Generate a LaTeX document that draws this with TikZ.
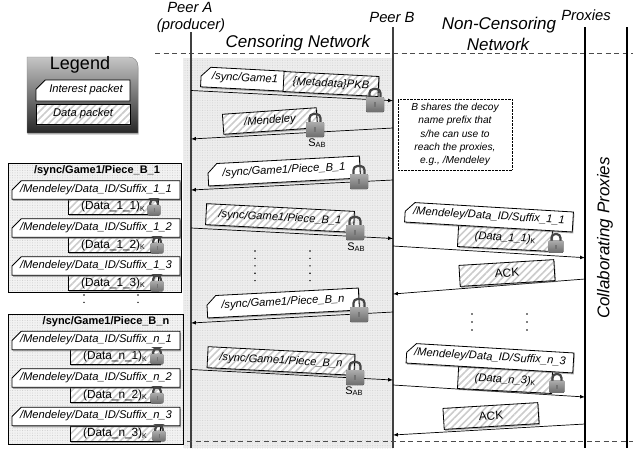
\documentclass[tikz,border=0pt]{standalone}
\usepackage{fontspec}
\setmainfont{Liberation Sans}
\usetikzlibrary{shapes.misc,shadows,patterns.meta}

\newcommand{\sizeof}[1]{\fontsize{#1}{#1}\selectfont}
\newcommand{\subK}{\raisebox{-1.5pt}{\sizeof{7}\textup{K}}}
\newcommand{\sAB}{S\raisebox{-1.5pt}{\sizeof{7.5}AB}}

\tikzset{
	intpkt/.style = {draw, line width=.8pt, fill=white, drop shadow={shadow xshift=1pt, shadow yshift=-1.5pt, fill=black!60}, chamfered rectangle, chamfered rectangle corners=north west, chamfered rectangle xsep=7pt, chamfered rectangle ysep=7pt, chamfered rectangle angle=45, inner sep=0pt, text height=4.5pt, text depth=-2.5pt, font=\itshape\sizeof{11.2}},
	datapkt/.style = {draw, line width=.8pt, inner sep=0pt, font=\itshape\sizeof{11.2}, drop shadow={shadow xshift=1pt, shadow yshift=-1.5pt, fill=black!60}, preaction={fill=white}, pattern={Lines[angle=45, distance=5pt, line width=1.6pt]}, pattern color=gray!40},
	cachedata/.style = {datapkt, line width=.5pt, minimum width=90pt, minimum height=15pt, font=\sizeof{11.8}},
	cacheint/.style = {intpkt, minimum width=168pt, minimum height=18pt},
	cachebox/.style = {draw, line width=.8pt, drop shadow={shadow xshift=1pt, shadow yshift=-1pt, fill=black!50}, preaction={fill=gray!10}, pattern={Dots[distance=2.5pt, radius=.5pt]}, pattern color=gray!40},
	msg/.style = {-latex, line width=.7pt},
	lifeline/.style = {line width=1.1pt, draw=black!75},
	border/.style = {dashed, draw=black!70, line width=.6pt, dash pattern=on 5pt off 3.5pt},
	vdots/.style = {line width=1.6pt, line cap=round, dash pattern=on 0pt off 7.4pt},
	title/.style = {inner sep=0pt, font=\itshape\sizeof{17}},
	peer/.style = {inner sep=0pt, font=\itshape\sizeof{14.8}},
	sablabel/.style = {inner sep=0pt, font=\sizeof{11}},
	lockicon/.pic = {
		\draw[line width=2.2pt, draw=gray!55!black, rounded corners=4pt] (-5.5,-1) -- (-5.5,-11) -- (5.5,-11) -- (5.5,-1);
		\fill[rounded corners=1pt, top color=gray!65, bottom color=gray!85!black] (-9,-3) rectangle (9,12);
		\fill[black!55] (-.7,2) rectangle (.7,7);
	}
}

\begin{document}
\begin{tikzpicture}[x=1pt, y=-1pt]
	\useasboundingbox (0,0) rectangle (633,448);

	% censoring network area
	\path[preaction={fill=gray!14}, pattern={Dots[distance=2.5pt, radius=.5pt]}, pattern color=gray!35] (183,58) rectangle (393,448);

	% lifelines and borders
	\coordinate (bl) at (155,53);
	\coordinate (br) at (633,53);
	\coordinate (cl) at (170,441);
	\coordinate (cr) at (633,441);
	\draw[border] (bl) -- (br);
	\coordinate (a0) at (191,32);
	\coordinate (a9) at (191,448);
	\coordinate (b0) at (393,27);
	\coordinate (b9) at (393,448);
	\coordinate (p0) at (585,27);
	\coordinate (p9) at (585,448);
	\coordinate (q0) at (627,27);
	\coordinate (q9) at (627,448);
	\draw[lifeline] (a0) -- (a9);
	\draw[lifeline] (b0) -- (b9);
	\draw[lifeline, draw=black] (p0) -- (p9);
	\draw[lifeline, draw=black] (q0) -- (q9);

	\node[peer] (peerA) at (190,7) {Peer A};
	\node[peer] (producer) at (191,26) {(producer)};
	\node[peer] (peerB) at (392,17) {Peer B};
	\node[peer] (proxies) at (586,15) {Proxies};
	\node[title] (censoring) at (298,43) {Censoring Network};
	\node[title] (noncens) at (499,25) {Non-Censoring};
	\node[title] (noncens2) at (498,44) {Network};
	\node[title, rotate=90] (collab) at (605,238) {Collaborating Proxies};

	% legend
	\path[draw=gray, top color=gray!45, middle color=gray!65, bottom color=black!85, drop shadow={shadow xshift=.5pt, shadow yshift=-1.5pt}] (27,133) -- (27,57) [rounded corners=9pt] -- (138,57) [sharp corners] -- (138,133) -- cycle;
	\node[inner sep=0pt, font=\sizeof{18}] (legend) at (80,65) {Legend};
	\node[intpkt, minimum width=94pt, minimum height=21pt] (legint) at (83,90.5) {\hspace{6pt}Interest packet};
	\node[datapkt, minimum width=94pt, minimum height=20pt] (legdata) at (83,114) {Data packet};

	% messages between the peers
	\coordinate (m1a) at (191,90.5);
	\coordinate (m1b) at (393,100.7);
	\draw[msg] (m1a) -- (m1b);
	\coordinate (m2b) at (393,128);
	\coordinate (m2a) at (191,139);
	\draw[msg] (m2b) -- (m2a);
	\coordinate (m3b) at (393,180);
	\coordinate (m3a) at (191,190);
	\draw[msg] (m3b) -- (m3a);
	\coordinate (m4a) at (191,228);
	\coordinate (m4b) at (393,238.5);
	\draw[msg] (m4a) -- (m4b);
	\coordinate (m5b) at (393,312);
	\coordinate (m5a) at (191,323);
	\draw[msg] (m5b) -- (m5a);
	\coordinate (m6a) at (191,369.5);
	\coordinate (m6b) at (393,380);
	\draw[msg] (m6a) -- (m6b);

	\node[intpkt, rotate=-3, minimum width=84pt, minimum height=20pt] (sync) at (243,79) {\hspace{4pt}/sync/Game1};
	\node[datapkt, rotate=-3, minimum width=95pt, minimum height=20pt] (meta) at (331,84) {\{Metadata\}PKB};
	\pic at (375,100) {lockicon};
	\node[datapkt, rotate=4, minimum width=94pt, minimum height=20pt] (mendeley) at (270,121) {/Mendeley};
	\pic at (315,125) {lockicon};
	\node[sablabel] (sab1) at (317,143) {\sAB};
	\node[intpkt, rotate=3, minimum width=152pt, minimum height=22pt] (piece1) at (284,171) {/sync/Game1/Piece\_B\_1};
	\pic at (359,177) {lockicon};
	\node[datapkt, rotate=-3, minimum width=148pt, minimum height=21pt] (data1) at (280,218) {/sync/Game1/Piece\_B\_1\hspace{6pt}};
	\pic at (355,228) {lockicon};
	\node[sablabel] (sab2) at (356,247) {\sAB};
	\node[intpkt, rotate=3, minimum width=152pt, minimum height=22pt] (piecen) at (283,303) {/sync/Game1/Piece\_B\_n};
	\pic at (359,310) {lockicon};
	\node[datapkt, rotate=-3, minimum width=147pt, minimum height=21pt] (datan) at (281,361) {/sync/Game1/Piece\_B\_n\hspace{6pt}};
	\pic at (355,373) {lockicon};
	\node[sablabel] (sab3) at (354,391) {\sAB};

	% dots
	\coordinate (d1) at (255,251);
	\coordinate (d2) at (255,281.5);
	\coordinate (d3) at (310,251);
	\coordinate (d4) at (310,281.5);
	\draw[vdots] (d1) -- (d2);
	\draw[vdots] (d3) -- (d4);

	% note
	\node[draw, densely dotted, minimum width=114pt, minimum height=71pt, align=center, inner sep=0pt, font=\itshape\fontsize{10.2}{13.4}\selectfont] (note) at (455,134.5) {B shares the decoy\\name prefix that\\s/he can use to\\reach the proxies,\\e.g., /Mendeley};

	% messages to the proxies
	\coordinate (r1b) at (393,246);
	\coordinate (r1p) at (585,257.7);
	\draw[msg] (r1b) -- (r1p);
	\coordinate (r2p) at (585,279);
	\coordinate (r2b) at (393,294);
	\draw[msg] (r2p) -- (r2b);
	\coordinate (r3b) at (393,385);
	\coordinate (r3p) at (585,397);
	\draw[msg] (r3b) -- (r3p);
	\coordinate (r4p) at (585,424);
	\coordinate (r4b) at (393,435);
	\draw[msg] (r4p) -- (r4b);

	\node[datapkt, rotate=-3, minimum width=94pt, minimum height=22pt] (rdata1) at (505,238) {(Data\_1\_1)\subK\hspace{12pt}};
	\node[intpkt, rotate=-3.4, minimum width=168pt, minimum height=20pt] (rint1) at (489,217) {/Mendeley/Data\_ID/Suffix\_1\_1};
	\pic[scale=.82] at (556,243) {lockicon};
	\node[datapkt, rotate=3.5, minimum width=95pt, minimum height=21pt, font=\sizeof{11.8}] (ack1) at (507,273) {ACK};
	\coordinate (d5) at (472,314);
	\coordinate (d6) at (472,330.5);
	\coordinate (d7) at (527,314);
	\coordinate (d8) at (527,330.5);
	\draw[vdots, dash pattern=on 0pt off 8pt] (d5) -- (d6);
	\draw[vdots, dash pattern=on 0pt off 8pt] (d7) -- (d8);
	\node[datapkt, rotate=-3, minimum width=94pt, minimum height=22pt] (rdatan) at (505,380) {(Data\_n\_3)\subK\hspace{12pt}};
	\node[intpkt, rotate=-3.4, minimum width=167pt, minimum height=20pt] (rintn) at (490,358) {/Mendeley/Data\_ID/Suffix\_n\_3};
	\pic[scale=.82] at (557,383) {lockicon};
	\node[datapkt, rotate=3.5, minimum width=95pt, minimum height=21pt, font=\sizeof{11.8}] (ackn) at (491,416) {ACK};
	\draw[border] (cl) -- (cr);

	% cached pieces, first
	\node[cachebox, minimum width=173pt, minimum height=129pt] (box1) at (94.5,227.5) {};
	\node[inner sep=0pt, font=\bfseries\sizeof{11}] (boxtitle1) at (97,171) {/sync/Game1/Piece\_B\_1};
	\node[cachedata] (d11) at (113,206.5) {(Data\_1\_1)\subK\hspace{12pt}};
	\node[cacheint] (i11) at (96,190) {/Mendeley/Data\_ID/Suffix\_1\_1};
	\pic[scale=.7] at (154,207) {lockicon};
	\node[cachedata] (d12) at (113,245) {(Data\_1\_2)\subK\hspace{12pt}};
	\node[cacheint] (i12) at (96,228) {/Mendeley/Data\_ID/Suffix\_1\_2};
	\pic[scale=.7] at (157,245) {lockicon};
	\node[cachedata] (d13) at (113,283) {(Data\_1\_3)\subK\hspace{12pt}};
	\node[cacheint] (i13) at (96,266) {/Mendeley/Data\_ID/Suffix\_1\_3};
	\pic[scale=.7] at (157,283) {lockicon};

	\coordinate (d9) at (84,295);
	\coordinate (d10) at (84,309.5);
	\coordinate (d14) at (138,295);
	\coordinate (d15) at (138,309.5);
	\draw[vdots] (d9) -- (d10);
	\draw[vdots] (d14) -- (d15);

	% cached pieces, last
	\node[cachebox, minimum width=175pt, minimum height=130pt] (box2) at (95.5,379) {};
	\node[inner sep=0pt, font=\bfseries\sizeof{11}] (boxtitle2) at (106,322) {/sync/Game1/Piece\_B\_n};
	\node[cachedata] (dn1) at (115,356.5) {(Data\_n\_1)\subK\hspace{12pt}};
	\node[cacheint] (in1) at (96,340.5) {/Mendeley/Data\_ID/Suffix\_n\_1};
	\pic[scale=.7] at (157,356) {lockicon};
	\node[cachedata] (dn2) at (115,395) {(Data\_n\_2)\subK\hspace{12pt}};
	\node[cacheint] (in2) at (96,378) {/Mendeley/Data\_ID/Suffix\_n\_2};
	\pic[scale=.7] at (157,395) {lockicon};
	\node[cachedata] (dn3) at (115,433.5) {(Data\_n\_3)\subK\hspace{12pt}};
	\node[cacheint] (in3) at (96,416.5) {/Mendeley/Data\_ID/Suffix\_n\_3};
	\pic[scale=.7] at (159,433) {lockicon};
\end{tikzpicture}
\end{document}
